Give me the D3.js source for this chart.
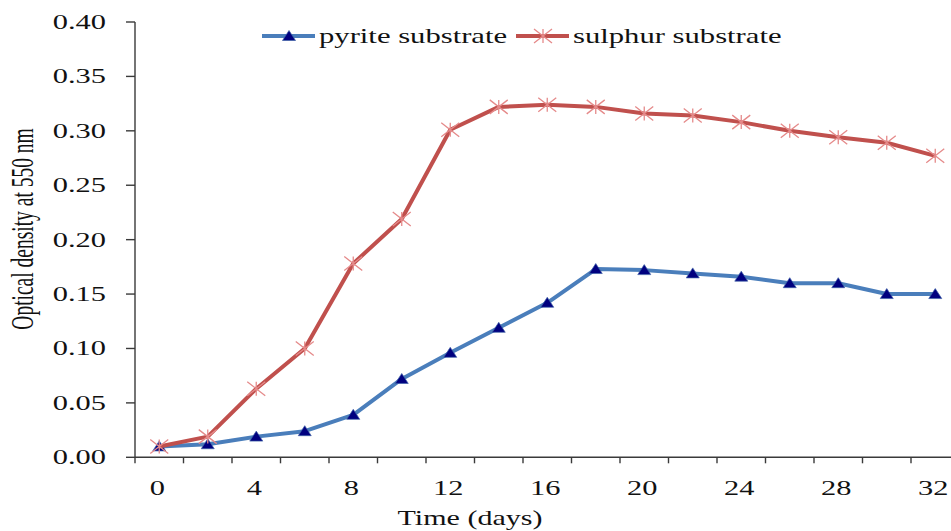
<!DOCTYPE html>
<html>
<head>
<meta charset="utf-8">
<script src="https://cdn.jsdelivr.net/npm/d3@7"></script>
<style>
  body { margin: 0; background: #fff; }
  text { font-family: "Liberation Serif", "Times New Roman", serif; fill: #111; }
</style>
</head>
<body>
<svg id="chart"></svg>
<script>
var width = 951;
var height = 531;

// data
var days = [0, 2, 4, 6, 8, 10, 12, 14, 16, 18, 20, 22, 24, 26, 28, 30, 32];
var pyrite = [0.010, 0.012, 0.019, 0.024, 0.039, 0.072, 0.096, 0.119, 0.142, 0.173, 0.172, 0.169, 0.166, 0.160, 0.160, 0.150, 0.150];
var sulphur = [0.010, 0.019, 0.063, 0.100, 0.178, 0.219, 0.301, 0.322, 0.324, 0.322, 0.316, 0.314, 0.308, 0.300, 0.294, 0.289, 0.277];
var yTicks = [0, 0.05, 0.10, 0.15, 0.20, 0.25, 0.30, 0.35, 0.40];
var xLabels = [0, 4, 8, 12, 16, 20, 24, 28, 32];
var seriesNames = ["pyrite substrate", "sulphur substrate"];

var svg = d3.select("#chart")
   .attr("width", width)
   .attr("height", height);

var plotLeft = 135, plotBottom = 457.3, plotTop = 22, band = 48.5;

var x = d3.scaleBand()
   .domain(days)
   .range([plotLeft, plotLeft + band * days.length]);

var y = d3.scaleLinear()
   .domain([0, 0.4])
   .range([plotBottom, plotTop]);

// the original picture is stretched sideways, so the text is too
function stretchedText(g, px, py, str, size, sx, anchor) {
   return g.append("text")
      .attr("transform", "translate(" + px + "," + py + ") scale(" + sx + ",1)")
      .attr("text-anchor", anchor)
      .style("font-size", size + "px")
      .text(str);
}

// y axis
var axes = svg.append("g").attr("stroke", "#3a3a3a").attr("stroke-width", 1.4);
axes.append("line")
   .attr("x1", plotLeft).attr("x2", plotLeft)
   .attr("y1", y(0.4)).attr("y2", y(0));
axes.selectAll(".ytick")
   .data(yTicks)
   .enter().append("line")
   .attr("x1", plotLeft - 9).attr("x2", plotLeft)
   .attr("y1", function(d) { return y(d); })
   .attr("y2", function(d) { return y(d); });

// x axis, ticks sit between the categories
axes.append("line")
   .attr("x1", plotLeft).attr("x2", width)
   .attr("y1", y(0)).attr("y2", y(0));
var edges = days.map(function(d) { return x(d); });
edges.push(x(days[days.length - 1]) + x.bandwidth());
axes.selectAll(".xtick")
   .data(edges)
   .enter().append("line")
   .attr("x1", function(d) { return d; })
   .attr("x2", function(d) { return d; })
   .attr("y1", y(0)).attr("y2", y(0) + 6);

var labels = svg.append("g");
yTicks.forEach(function(t) {
   stretchedText(labels, 106, y(t) + 7, d3.format(".2f")(t), 20, 1.52, "end");
});
xLabels.forEach(function(t) {
   stretchedText(labels, x(t) + x.bandwidth() / 2 - 2, 495, String(t), 20, 1.52, "middle");
});

stretchedText(labels, 470, 525, "Time (days)", 21, 1.43, "middle");

labels.append("text")
   .attr("transform", "translate(33,229) scale(1.6,1) rotate(-90)")
   .attr("text-anchor", "middle")
   .style("font-size", "19.5px")
   .text("Optical density at 550 nm");

// markers
function triangle(g, cx, cy) {
   g.append("path")
      .attr("d", "M" + cx + "," + (cy - 5.5) + "L" + (cx + 6.5) + "," + (cy + 4.5) + "L" + (cx - 6.5) + "," + (cy + 4.5) + "Z")
      .attr("fill", "#00007f")
      .attr("stroke", "#3d62a8")
      .attr("stroke-width", 0.7);
}
function star(g, cx, cy) {
   var w = 9, h = 7;
   g.append("path")
      .attr("d", "M" + (cx - w) + "," + (cy - h) + "L" + (cx + w) + "," + (cy + h) +
                 "M" + (cx - w) + "," + (cy + h) + "L" + (cx + w) + "," + (cy - h) +
                 "M" + cx + "," + (cy - h) + "L" + cx + "," + (cy + h))
      .attr("fill", "none")
      .attr("stroke", "#e58a8a")
      .attr("stroke-width", 1.3);
}

var line = d3.line()
   .x(function(d, i) { return x(days[i]) + x.bandwidth() / 2; })
   .y(function(d) { return y(d); });

var series = [
   { values: pyrite, color: "#4a7ebb", marker: triangle },
   { values: sulphur, color: "#c0504d", marker: star }
];

var plot = svg.append("g");
series.forEach(function(s) {
   plot.append("path")
      .datum(s.values)
      .attr("d", line)
      .attr("fill", "none")
      .attr("stroke", s.color)
      .attr("stroke-width", 4)
      .attr("stroke-linejoin", "round");
   var mg = plot.append("g");
   s.values.forEach(function(v, i) {
      s.marker(mg, x(days[i]) + x.bandwidth() / 2, y(v));
   });
});

// legend
var legend = svg.append("g");
var legendX = [262, 516];
series.forEach(function(s, i) {
   legend.append("line")
      .attr("x1", legendX[i]).attr("x2", legendX[i] + 53)
      .attr("y1", 36).attr("y2", 36)
      .attr("stroke", s.color)
      .attr("stroke-width", 4);
   s.marker(legend, legendX[i] + 27, 36);
   stretchedText(legend, legendX[i] + 57, 43, seriesNames[i], 21, 1.46, "start");
});
</script>
</body>
</html>
